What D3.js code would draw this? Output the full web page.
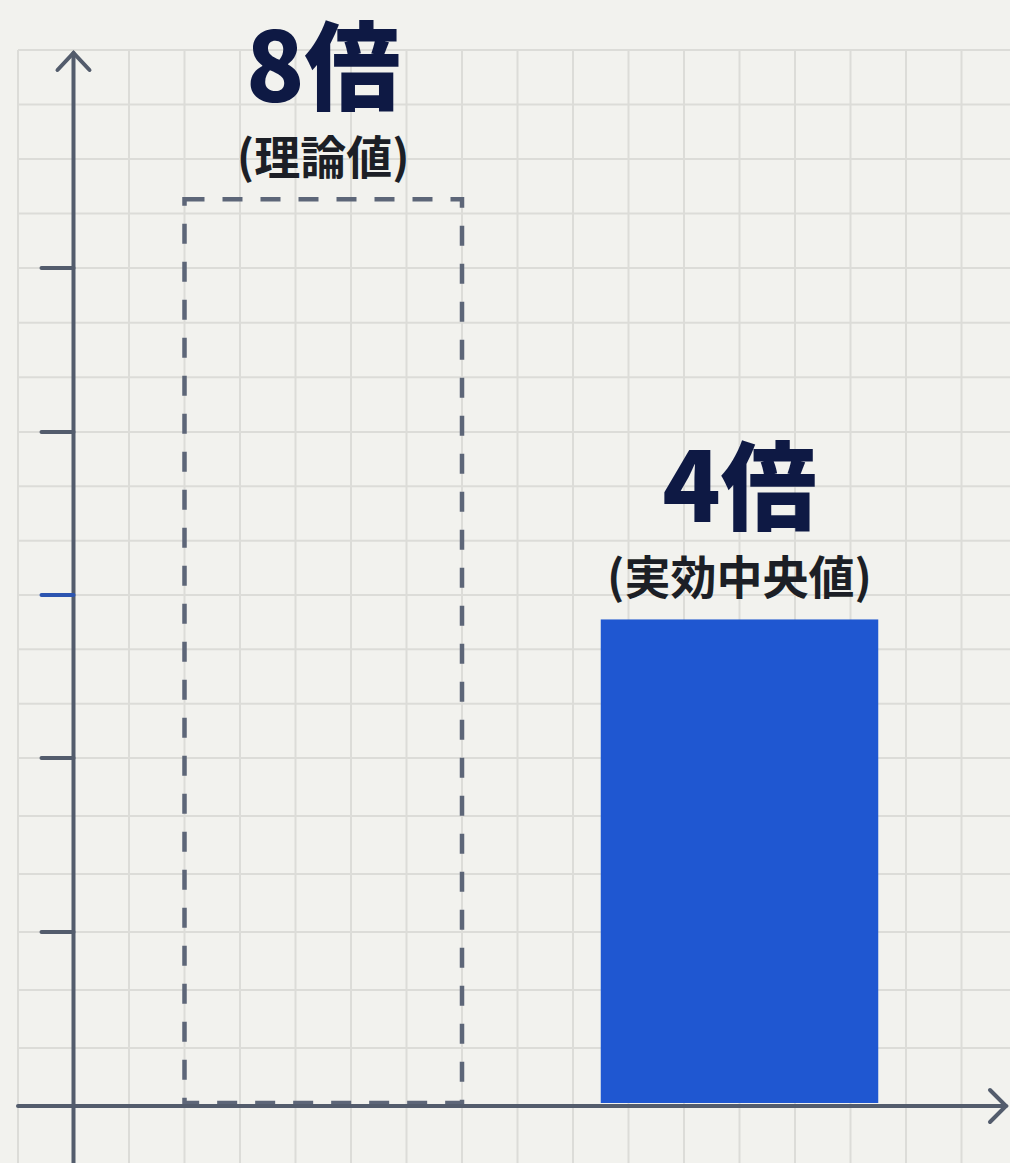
<!DOCTYPE html>
<html>
<head>
<meta charset="utf-8">
<script src="https://cdn.jsdelivr.net/npm/d3@7"></script>
<style>
  html, body { margin: 0; padding: 0; background: #f2f2ee; }
  svg { display: block; }
</style>
</head>
<body>
<div id="chart"></div>
<script>
// chart data
var categories = ["理論値", "実効中央値"];
var bigLabels = ["8倍", "4倍"];
var values = [5.42, 2.85];          // read on the axis, in tick units
var tickValues = [1, 2, 3, 4, 5];
var highlightTick = 3;

var width = 1010, height = 1163;

var svg = d3.select("#chart").append("svg")
    .attr("width", width)
    .attr("height", height);

svg.append("rect")
    .attr("width", width)
    .attr("height", height)
    .attr("fill", "#f2f2ee");

// x in grid cells, y in tick units (the picture is a bit stretched at the bottom)
var x = d3.scaleLinear()
    .domain([0, 18])
    .range([18, 18 + 18 * 55.5]);

var y = d3.scaleLinear()
    .domain([0, 1, 2, 3, 4, 5, 19 / 3])
    .range([1106, 932, 758, 595, 432, 268, 50]);

var band = d3.scaleBand()
    .domain(categories)
    .range([x(3), x(15.5)])
    .paddingInner(1 / 3);

// grid
var grid = svg.append("g").attr("class", "grid")
    .attr("stroke", "#dcdcd8")
    .attr("stroke-width", 2);

grid.selectAll(".v")
    .data(d3.range(0, 18))
    .enter().append("line")
    .attr("x1", d => x(d)).attr("x2", d => x(d))
    .attr("y1", y(19 / 3)).attr("y2", height);

grid.selectAll(".h")
    .data(d3.range(1, 20).map(k => k / 3))
    .enter().append("line")
    .attr("x1", x(0)).attr("x2", width)
    .attr("y1", d => y(d)).attr("y2", d => y(d));

// bars
var bars = svg.append("g");

bars.selectAll(".bar")
    .data(categories)
    .enter().append("rect")
    .attr("x", d => band(d))
    .attr("width", band.bandwidth())
    .attr("y", (d, i) => y(values[i]))
    .attr("height", (d, i) => y(0) - 3 - y(values[i]))
    .attr("fill", (d, i) => i == 0 ? "none" : "#1f57d1")
    .attr("stroke", (d, i) => i == 0 ? "#5d6678" : "none")
    .attr("stroke-width", 4.5)
    .attr("stroke-dasharray", (d, i) => i == 0 ? "20,18" : null);

// labels
bars.selectAll(".big")
    .data(categories)
    .enter().append("text")
    .attr("x", d => band(d) + band.bandwidth() / 2)
    .attr("y", (d, i) => y(values[i]) - 97)
    .attr("text-anchor", "middle")
    .attr("font-family", "'Noto Sans CJK JP', 'Noto Sans', sans-serif")
    .attr("font-weight", 900)
    .attr("font-size", 96)
    .attr("fill", "#0e1944")
    .text((d, i) => bigLabels[i]);

bars.selectAll(".small")
    .data(categories)
    .enter().append("text")
    .attr("x", d => band(d) + band.bandwidth() / 2)
    .attr("y", (d, i) => y(values[i]) - 25)
    .attr("text-anchor", "middle")
    .attr("font-family", "'Noto Sans CJK JP', 'Noto Sans', sans-serif")
    .attr("font-weight", 700)
    .attr("font-size", 46)
    .attr("fill", "#1c1f26")
    .text(d => "(" + d + ")");

// axes
var axisColor = "#535c6c";
var axes = svg.append("g")
    .attr("stroke", axisColor)
    .attr("stroke-width", 4)
    .attr("fill", "none")
    .attr("stroke-linecap", "round");

axes.append("line")
    .attr("x1", x(1)).attr("x2", x(1))
    .attr("y1", 53).attr("y2", height);
axes.append("path")
    .attr("d", "M" + (x(1) - 16) + ",70L" + x(1) + ",53L" + (x(1) + 16) + ",70");

axes.append("line")
    .attr("x1", x(0)).attr("x2", 1006)
    .attr("y1", y(0)).attr("y2", y(0));
axes.append("path")
    .attr("d", "M990," + (y(0) - 16) + "L1006," + y(0) + "L990," + (y(0) + 16));

axes.selectAll(".tick")
    .data(tickValues)
    .enter().append("line")
    .attr("x1", x(1) - 32).attr("x2", x(1))
    .attr("y1", d => y(d)).attr("y2", d => y(d))
    .attr("stroke", d => d == highlightTick ? "#2c55b0" : axisColor);
</script>
</body>
</html>
